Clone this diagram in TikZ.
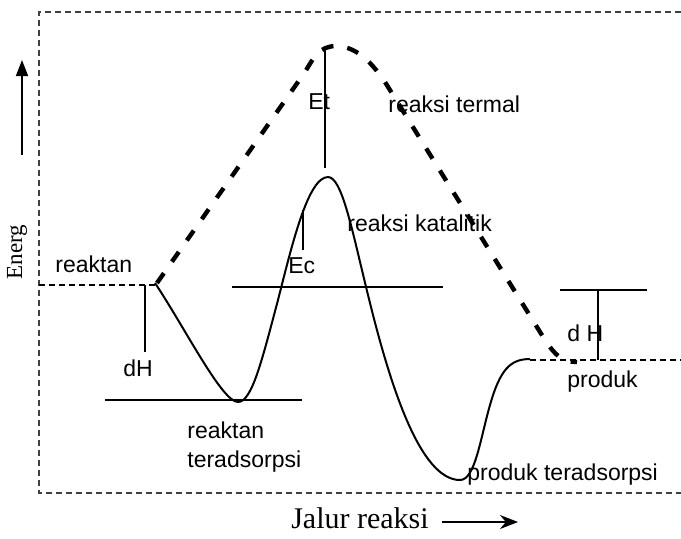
\documentclass[tikz,border=0pt]{standalone}
\usepackage{fontspec}
\setmainfont{Liberation Sans}
\newfontfamily\seriffont{Liberation Serif}
\usetikzlibrary{arrows.meta}

\begin{document}
\begin{tikzpicture}[
    x=0.5pt, y=-0.5pt,
    every node/.style={font=\fontsize{11.5}{14.5}\selectfont, inner sep=0pt},
    frame/.style={line width=0.6pt, densely dashed, black!75},
    lvl/.style={line width=0.7pt},
    base/.style={line width=0.6pt, densely dashed},
    termal/.style={line width=2.2pt, dash pattern=on 6pt off 7pt},
    katal/.style={line width=1pt, line join=round},
    arr/.style={-{Stealth[length=9pt, width=7pt]}, line width=0.7pt},
    lab/.style={anchor=west},
  ]
  \useasboundingbox (0,0) rectangle (681,538);

  % frame and axes
  \draw[frame] (681,12) -- (39,12) -- (39,493) -- (681,493);
  \coordinate (ytail) at (22,155);
  \coordinate (ytip)  at (22,60);
  \draw[-{Triangle[length=8pt, width=6pt]}, line width=0.8pt] (ytail) -- (ytip);
  \node[rotate=90, font=\seriffont\fontsize{11.5}{12}\selectfont] (energ) at (17,252) {Energ};
  \node[font=\seriffont\fontsize{15}{18}\selectfont] (jalur) at (360,518) {Jalur reaksi};
  \coordinate (xtail) at (442,522);
  \coordinate (xtip)  at (518,522);
  \draw[arr] (xtail) -- (xtip);

  % reactant and product levels
  \coordinate (r0) at (39,285);
  \coordinate (r1) at (155,285);
  \coordinate (p0) at (530,360);
  \coordinate (p1) at (681,360);
  \draw[base] (r0) -- (r1);
  \draw[base] (p0) -- (p1);

  % thermal path
  \draw[termal] (157,283) -- (305,72) .. controls (315,55) and (320,47) .. (335,46)
    .. controls (355,46) and (370,60) .. (385,82) -- (545,340)
    .. controls (555,355) and (562,362) .. (577,362);

  % catalytic path
  \draw[katal] (155,283) .. controls (185,328) and (222,402) .. (238,402)
    .. controls (252,402) and (262,360) .. (278,300)
    .. controls (292,245) and (308,177) .. (328,177)
    .. controls (342,177) and (352,230) .. (368,295)
    .. controls (390,385) and (420,480) .. (460,480)
    .. controls (475,480) and (480,440) .. (490,405)
    .. controls (500,370) and (510,359) .. (530,359);

  % levels and marks
  \draw[lvl] (105,400) -- (302,400);
  \draw[lvl] (232,287) -- (443,287);
  \draw[lvl] (560,290) -- (647,290);
  \draw[lvl] (325,47) -- (325,168);
  \draw[lvl] (303,210) -- (303,250);
  \draw[lvl] (145,285) -- (145,352);
  \draw[lvl] (598,290) -- (598,360);

  % labels
  \node[lab] (reaktan) at (55,264)  {reaktan};
  \node[lab] (dh1)     at (123,368) {dH};
  \node[lab] (ec)      at (288,266) {Ec};
  \node[lab] (et)      at (308,102) {Et};
  \node[lab] (termlab) at (388,104) {reaksi termal};
  \node[lab] (katlab)  at (347,223) {reaksi katalitik};
  \node[lab, align=left] (radsorp) at (187,447) {reaktan\\teradsorpsi};
  \node[lab] (padsorp) at (467,475) {produk teradsorpsi};
  \node[lab] (dh2)     at (567,333) {d H};
  \node[lab] (produk)  at (567,382) {produk};
\end{tikzpicture}
\end{document}
